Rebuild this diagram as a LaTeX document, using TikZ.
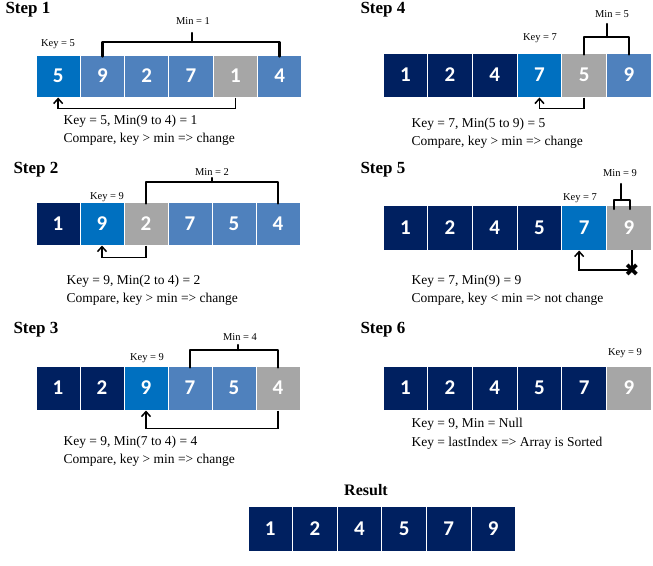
\documentclass[tikz,border=0pt]{standalone}
\usepackage{fontspec}
\usetikzlibrary{arrows.meta}
\setmainfont{Liberation Serif}
\newfontfamily\numfont{Carlito}
\definecolor{keyc}{RGB}{0,112,192}
\definecolor{unc}{RGB}{79,129,189}
\definecolor{minc}{RGB}{166,166,166}
\definecolor{srt}{RGB}{0,32,96}
\newcommand\cellrow[6]{% name, x0, y0, w, h, list color/value
  \foreach \c/\v [count=\i] in {#6} {
    \node[cell, fill=\c, minimum width=#4pt, minimum height=#5pt]
      (#1c\i) at ({#2+(\i-0.5)*#4},{#3+#5/2}) {\v};
  }}
\begin{document}
\begin{tikzpicture}[x=1pt,y=-1pt,
  cell/.style={draw=white, line width=1pt, text=white, font=\numfont\bfseries\fontsize{21}{21}\selectfont, inner sep=0pt},
  title/.style={font=\bfseries\fontsize{17}{19}\selectfont, anchor=west},
  small/.style={font=\fontsize{10.5}{11}\selectfont},
  desc/.style={font=\fontsize{13.5}{15}\selectfont, anchor=west},
  brk/.style={line width=2.4pt, line cap=round, line join=round},
  arr/.style={line width=1.5pt, -{Straight Barb[length=5pt,width=9pt,line width=1.5pt]}}]
\useasboundingbox (0,0) rectangle (653,565);
% Step 1
\node[title] (t1) at (2,10) {Step 1};
\cellrow{a}{36}{55}{44.3}{42}{keyc/5,unc/9,unc/2,unc/7,minc/1,unc/4}
\node[small] (k1) at (58,44) {Key = 5};
\node[small] (m1) at (193,21) {Min = 1};
\draw[brk] ([yshift=-2pt]ac2.north) |- (192,42) -| ([yshift=-2pt]ac6.north);
\draw[brk] (192,42) -- ++(0,-9);
\draw[arr] (ac5.south) -- ++(0,11) -| (ac1.south);
\node[desc] (d1a) at (60,121) {Key = 5, Min(9 to 4) = 1};
\node[desc] (d1b) at (60,139) {Compare, key > min => change};
% Step 2
\node[title] (t2) at (10,170) {Step 2};
\cellrow{b}{36}{202}{44}{43}{srt/1,keyc/9,minc/2,unc/7,unc/5,unc/4}
\node[small] (k2) at (107,197) {Key = 9};
\node[small] (m2) at (212,172) {Min = 2};
\draw[brk] ([yshift=-2pt]bc3.north) |- (212,182) -| ([yshift=-2pt]bc6.north);
\draw[brk] (212,182) -- ++(0,-4);
\draw[arr] (bc3.south) -- ++(0,12) -| (bc2.south);
\node[desc] (d2a) at (63,281) {Key = 9, Min(2 to 4) = 2};
\node[desc] (d2b) at (63,299) {Compare, key > min => change};
% Step 3
\node[title] (t3) at (10,330) {Step 3};
\cellrow{c}{36}{366}{44}{44}{srt/1,srt/2,keyc/9,unc/7,unc/5,minc/4}
\node[small] (k3) at (147,358) {Key = 9};
\node[small] (m3) at (240,337) {Min = 4};
\draw[brk] ([yshift=-2pt]cc4.north) |- (238,350) -| ([yshift=-2pt]cc6.north);
\draw[brk] (238,350) -- ++(0,-5);
\draw[arr] (cc6.south) -- ++(0,18) -| (cc3.south);
\node[desc] (d3a) at (60,442) {Key = 9, Min(7 to 4) = 4};
\node[desc] (d3b) at (60,460) {Compare, key > min => change};
% Step 4
\node[title] (t4) at (357,10) {Step 4};
\cellrow{d}{383}{53}{44.7}{44}{srt/1,srt/2,srt/4,keyc/7,minc/5,unc/9}
\node[small] (k4) at (540,38) {Key = 7};
\node[small] (m4) at (612,14) {Min = 5};
\draw[brk] ([yshift=-2pt]dc5.north) |- (607,37) -| ([yshift=-2pt]dc6.north);
\draw[brk] (607,37) -- ++(0,-13);
\draw[arr] (dc5.south) -- ++(0,11) -| (dc4.south);
\node[desc] (d4a) at (408,124) {Key = 7, Min(5 to 9) = 5};
\node[desc] (d4b) at (408,142) {Compare, key > min => change};
% Step 5
\node[title] (t5) at (357,170) {Step 5};
\cellrow{e}{383}{205}{44.7}{45}{srt/1,srt/2,srt/4,srt/5,keyc/7,minc/9}
\node[small] (k5) at (580,198) {Key = 7};
\node[small] (m5) at (620,173) {Min = 9};
\draw[brk] (614,209) |- (621,200) -| (630,209);
\draw[brk] (621,200) -- ++(0,-16);
\coordinate (x5) at (632,270);
\draw[arr] (632,250) -- (x5) -| ([xshift=-5pt]ec5.south);
\node[font=\fontsize{18}{18}\selectfont, inner sep=0pt] (xm) at (x5) {\fontspec{DejaVu Sans}✖};
\node[desc] (d5a) at (408,281) {Key = 7, Min(9) = 9};
\node[desc] (d5b) at (408,299) {Compare, key < min => not change};
% Step 6
\node[title] (t6) at (357,330) {Step 6};
\cellrow{f}{383}{366}{44.7}{44}{srt/1,srt/2,srt/4,srt/5,srt/7,minc/9}
\node[small] (k6) at (625,353) {Key = 9};
\node[desc] (d6a) at (408,424) {Key = 9, Min = Null};
\node[desc] (d6b) at (408,443) {Key = lastIndex => Array is Sorted};
% Result
\node[font=\bfseries\fontsize{16}{18}\selectfont] (res) at (366,490) {Result};
\cellrow{g}{248}{506}{44.6}{45}{srt/1,srt/2,srt/4,srt/5,srt/7,srt/9}
\end{tikzpicture}
\end{document}
